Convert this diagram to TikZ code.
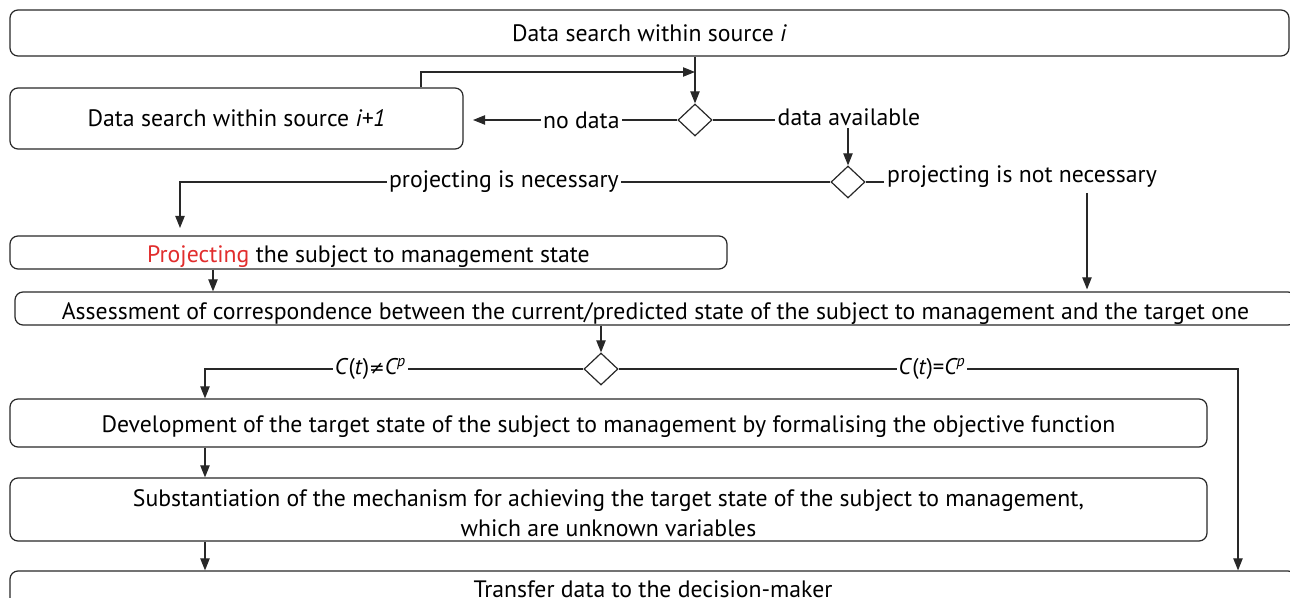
\documentclass[tikz,border=0pt]{standalone}
\usepackage{fontspec}
\setmainfont{PT Sans}
\newfontfamily\symf{DejaVu Sans}
\usetikzlibrary{shapes.geometric,arrows.meta,calc}
\definecolor{ink}{RGB}{40,40,40}
\definecolor{accent}{RGB}{225,45,45}
\begin{document}
\begin{tikzpicture}[x=0.75pt,y=-0.75pt,
  font=\fontsize{17.8}{22.8}\selectfont,
  box/.style={draw=ink, line width=0.9pt, rounded corners=6pt, inner sep=0pt, align=center},
  lowtext/.style={text height=#1, text depth=0pt},
  lowtext/.default=15pt,
  dia/.style={draw=ink, line width=0.9pt, diamond, inner sep=0pt, minimum width=25.5pt, minimum height=24pt},
  lbl/.style={fill=white, inner sep=1.5pt},
  cond/.style={lbl, font=\fontsize{17}{20}\selectfont},
  conn/.style={draw=ink, line width=0.8pt},
  arr/.style={conn, -{Triangle[length=9pt,width=7pt]}}]
\useasboundingbox (0,0) rectangle (1290,598);

% boxes
\node[box, minimum width=959.25pt, minimum height=34.5pt] (top) at (649.5,33) {Data search within source \textit{i}};
\node[box, minimum width=339.75pt, minimum height=45.75pt] (src2) at (236.5,118.5) {Data search within source \textit{i+1}};
\node[box, lowtext, minimum width=537.75pt, minimum height=24.75pt] (proj) at (368.5,252.5) {\textcolor{accent}{Projecting} the subject to management state};
\node[box, lowtext=16pt, minimum width=960.75pt, minimum height=24.75pt] (assess) at (655.5,308.5) {Assessment of correspondence between the current/predicted state of the subject to management and the target one};
\node[box, lowtext, minimum width=897.75pt, minimum height=36pt] (dev) at (608.5,423) {Development of the target state of the subject to management by formalising the objective function};
\node[box, lowtext=40.5pt, minimum width=897.75pt, minimum height=47.25pt] (sub) at (608.5,509.5) {Substantiation of the mechanism for achieving the target state of the subject to management,\\ which are unknown variables};
\node[box, minimum width=964.5pt, minimum height=27pt] (transfer) at (653,589) {Transfer data to the decision-maker};

% decisions
\node[dia] (d1) at (695,120) {};
\node[dia] (d2) at (848,182) {};
\node[dia] (d3) at (601,369) {};

% stand-alone branch labels
\node[inner sep=2pt] (avail) at (849,117) {data available};
\node[inner sep=2pt] (notnec) at (1022,177) {projecting is not necessary};

% routing points
\coordinate (loop) at (421,72);
\coordinate (nodata) at (473,120);
\coordinate (pn) at (180,228);
\coordinate (nn) at (1087,193);
\coordinate (pa) at (213,0);
\coordinate (ne) at (205,369);
\coordinate (eq) at (1238,369);
\coordinate (down) at (205,0);

% connectors
\draw[arr] (d1.north |- top.south) -- (d1.north);
\draw[arr] (src2.north -| loop) -- (loop) -- (loop -| d1.north);
\draw[arr] (d1.west) -- node[lbl, pos=0.47] {no data} (nodata);
\draw[conn] (d1.east) -- (d1.east -| avail.west);
\draw[arr] (avail.south -| d2.north) -- (d2.north);
\draw[arr] (d2.west) -- node[lbl, pos=0.502] {projecting is necessary} (d2.west -| pn) -- (pn);
\draw[conn] (d2.east) -- (d2.east -| notnec.west);
\draw[arr] (nn) -- ($(nn |- assess.north)+(0,-2)$);
\draw[arr] (proj.south -| pa) -- (assess.north -| pa);
\draw[arr] (d3.north |- assess.south) -- (d3.north);
\draw[arr] (d3.west) -- node[cond, pos=0.563] {\textit{C}(\textit{t}){\symf\fontsize{14}{16}\selectfont≠}\textit{C\textsuperscript{p}}} (ne) -- (dev.north -| ne);
\draw[arr] (d3.east) -- node[cond, pos=0.506] {\textit{C}(\textit{t})=\textit{C\textsuperscript{p}}} (eq) -- (transfer.north -| eq);
\draw[arr] (dev.south -| down) -- (sub.north -| down);
\draw[arr] (sub.south -| down) -- (transfer.north -| down);
\end{tikzpicture}
\end{document}
